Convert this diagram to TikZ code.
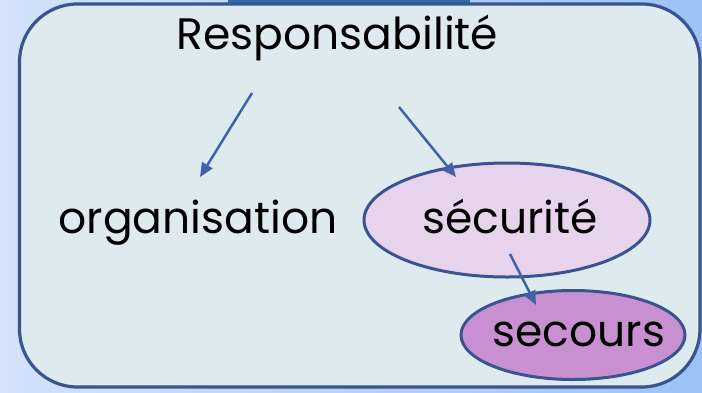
\documentclass[tikz,border=0pt]{standalone}
\usepackage{fontspec}
\setmainfont{Poppins}
\usetikzlibrary{shapes.geometric,arrows.meta}
\definecolor{bgL}{HTML}{D4E2FA}
\definecolor{bgR}{HTML}{9CC2F6}
\definecolor{topbar}{HTML}{2F68A8}
\definecolor{boxfill}{HTML}{DEEBEE}
\definecolor{boxline}{HTML}{3A5490}
\definecolor{arrowc}{HTML}{4262A8}
\definecolor{secfill}{HTML}{E8D3EC}
\definecolor{secofill}{HTML}{C890D0}
\tikzset{
  panel/.style={draw=boxline, line width=3.2pt, fill=boxfill, rounded corners=58pt},
  word/.style={inner sep=0pt, font=\fontsize{44}{48}\selectfont, text=black},
  oval/.style={ellipse, draw=boxline, line width=3pt, inner sep=0pt, font=\fontsize{44}{48}\selectfont, text depth=0pt},
  link/.style={draw=arrowc, line width=2.5pt, -{Triangle[length=14pt,width=12pt]}}
}
\begin{document}
\begin{tikzpicture}[x=1pt,y=-1pt]
\useasboundingbox (0,0) rectangle (702,392);
\shade[left color=bgL, right color=bgR] (0,0) rectangle (702,392);
\fill[topbar] (228,0) rectangle (470,4);
\draw[panel] (19.5,4) rectangle (700,387);
\node[word, anchor=base] (resp) at (337.5,49) {Responsabilité};
\node[word, anchor=base] (org) at (198,233) {organisation};
\node[oval, fill=secfill, minimum width=286pt, minimum height=114pt, text height=26pt, anchor=center] (secu) at (507,220) {\makebox[0pt]{\hspace{6pt}sécurité}};
\node[oval, fill=secofill, minimum width=224pt, minimum height=89pt, text height=22pt, anchor=center] (seco) at (573,335) {\makebox[0pt]{\hspace{12pt}secours}};
\coordinate (a1s) at (252,93);
\coordinate (a1e) at (200,177);
\coordinate (a2s) at (399,107);
\coordinate (a2e) at (456,177);
\coordinate (a3s) at (510,254);
\coordinate (a3e) at (536,305);
\draw[link] (a1s) -- (a1e);
\draw[link] (a2s) -- (a2e);
\draw[link] (a3s) -- (a3e);
\end{tikzpicture}
\end{document}
